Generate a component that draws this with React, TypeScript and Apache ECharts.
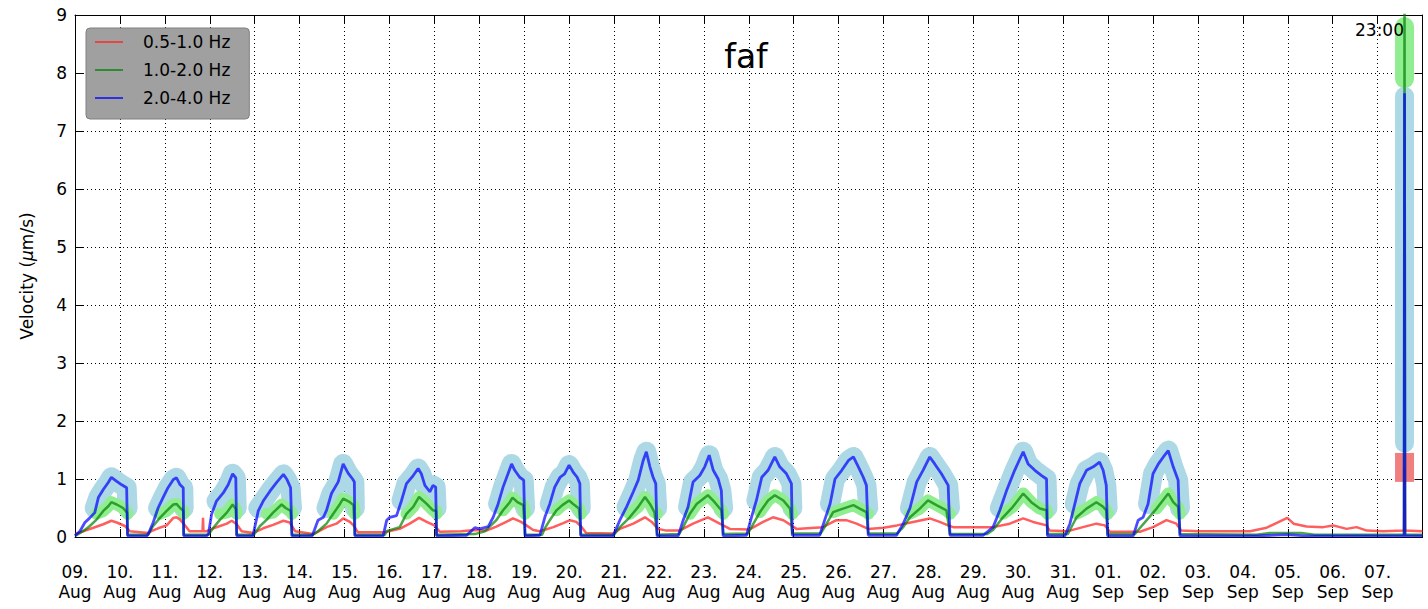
import React, { useEffect, useRef } from 'react';
import * as echarts from 'echarts';

// ---------- data ----------
const tickDays = ['09.', '10.', '11.', '12.', '13.', '14.', '15.', '16.', '17.', '18.', '19.', '20.', '21.', '22.', '23.', '24.', '25.', '26.', '27.', '28.', '29.', '30.', '31.', '01.', '02.', '03.', '04.', '05.', '06.', '07.'];
const tickMonths = ['Aug', 'Aug', 'Aug', 'Aug', 'Aug', 'Aug', 'Aug', 'Aug', 'Aug', 'Aug', 'Aug', 'Aug', 'Aug', 'Aug', 'Aug', 'Aug', 'Aug', 'Aug', 'Aug', 'Aug', 'Aug', 'Aug', 'Aug', 'Sep', 'Sep', 'Sep', 'Sep', 'Sep', 'Sep', 'Sep'];
const seriesNames = ['0.5-1.0 Hz', '1.0-2.0 Hz', '2.0-4.0 Hz'];
const titleText = 'faf';
const clockLabel = '23:00';
const yAxisName = 'Velocity ({it|μ}m/s)';

// [day since 09 Aug 00:00, velocity µm/s]
const red05: number[][] = [
  [0, 0.05], [0.18, 0.1], [0.41, 0.16], [0.63, 0.22], [0.81, 0.28], [0.93, 0.25], [1.11, 0.19], [1.22, 0.1],
  [1.63, 0.07], [1.7, 0.1], [1.85, 0.15], [2.04, 0.2], [2.19, 0.33], [2.26, 0.34], [2.34, 0.3], [2.46, 0.19], [2.55, 0.1],
  [2.84, 0.1], [2.85, 0.33], [2.86, 0.1],
  [2.93, 0.1], [3.08, 0.15], [3.23, 0.19], [3.38, 0.23], [3.49, 0.28], [3.6, 0.22], [3.71, 0.1],
  [3.97, 0.07], [4.19, 0.15], [4.41, 0.21], [4.64, 0.28], [4.78, 0.25], [4.9, 0.1],
  [5.3, 0.05], [5.4, 0.09], [5.6, 0.17], [5.82, 0.23], [5.97, 0.32], [6.12, 0.26], [6.2, 0.2], [6.3, 0.08],
  [6.86, 0.08], [6.94, 0.09], [7.23, 0.14], [7.45, 0.23], [7.66, 0.33], [7.83, 0.26], [8.0, 0.2], [8.12, 0.09],
  [8.6, 0.1], [8.9, 0.12], [9.16, 0.11], [9.38, 0.18], [9.6, 0.26], [9.75, 0.32], [9.93, 0.26], [10.05, 0.2], [10.2, 0.12],
  [10.35, 0.1], [10.65, 0.17], [10.87, 0.24], [11.02, 0.29], [11.16, 0.26], [11.27, 0.18], [11.38, 0.07],
  [11.98, 0.06], [12.13, 0.14], [12.43, 0.23], [12.69, 0.34], [12.84, 0.26], [12.98, 0.14], [13.17, 0.11],
  [13.46, 0.11], [13.76, 0.23], [14.09, 0.34], [14.28, 0.26], [14.43, 0.2], [14.58, 0.14],
  [15.02, 0.13], [15.32, 0.26], [15.54, 0.34], [15.77, 0.29], [15.95, 0.2], [16.06, 0.14],
  [16.65, 0.17], [16.95, 0.29], [17.17, 0.29], [17.4, 0.23], [17.66, 0.14],
  [18.0, 0.16], [18.3, 0.2], [18.66, 0.26], [19.03, 0.32], [19.25, 0.26], [19.44, 0.2], [19.55, 0.17],
  [20.44, 0.17], [20.81, 0.23], [21.11, 0.32], [21.33, 0.26], [21.63, 0.2], [21.7, 0.11],
  [22.1, 0.1], [22.15, 0.11], [22.44, 0.17], [22.74, 0.23], [22.93, 0.2], [23.04, 0.09],
  [23.6, 0.09], [23.71, 0.09], [24.0, 0.17], [24.3, 0.29], [24.52, 0.23], [24.63, 0.11],
  [25.0, 0.1], [26.16, 0.1], [26.53, 0.16], [26.99, 0.33], [27.13, 0.23], [27.42, 0.18], [27.79, 0.17], [28.01, 0.2],
  [28.31, 0.14], [28.53, 0.17], [28.76, 0.11], [29.12, 0.1], [29.59, 0.11], [29.6, 1.2], [29.61, 0.11], [30, 0.1],
];

const green12: number[][] = [
  [0, 0.02], [0.18, 0.1], [0.33, 0.19], [0.48, 0.3], [0.63, 0.45], [0.74, 0.53], [0.81, 0.6], [0.93, 0.56], [1.07, 0.5], [1.16, 0.42], [1.17, 0.04],
  [1.63, 0.04], [1.74, 0.19], [1.89, 0.33], [2.04, 0.45], [2.19, 0.56], [2.26, 0.57], [2.34, 0.5], [2.41, 0.45], [2.42, 0.04],
  [2.97, 0.04], [3.08, 0.16], [3.23, 0.3], [3.38, 0.42], [3.51, 0.56], [3.58, 0.48], [3.6, 0.04],
  [3.98, 0.04], [4.12, 0.19], [4.27, 0.3], [4.41, 0.42], [4.6, 0.56], [4.69, 0.5], [4.8, 0.45], [4.83, 0.04],
  [5.3, 0.04], [5.41, 0.1], [5.6, 0.23], [5.75, 0.4], [5.9, 0.57], [5.97, 0.66], [6.12, 0.6], [6.2, 0.55], [6.23, 0.04],
  [6.9, 0.04], [6.94, 0.1], [7.1, 0.14], [7.23, 0.17], [7.38, 0.4], [7.53, 0.52], [7.66, 0.69], [7.83, 0.57], [7.97, 0.46], [8.04, 0.45], [8.05, 0.04],
  [8.9, 0.05], [9.13, 0.1], [9.38, 0.29], [9.53, 0.46], [9.68, 0.6], [9.74, 0.68], [9.85, 0.6], [9.98, 0.55], [10.02, 0.04],
  [10.4, 0.04], [10.46, 0.15], [10.57, 0.29], [10.72, 0.46], [10.85, 0.55], [11.0, 0.63], [11.12, 0.55], [11.22, 0.49], [11.26, 0.04],
  [12.0, 0.04], [12.13, 0.17], [12.35, 0.34], [12.54, 0.52], [12.69, 0.69], [12.8, 0.57], [12.9, 0.43], [12.96, 0.04],
  [13.45, 0.05], [13.54, 0.17], [13.69, 0.4], [13.84, 0.57], [13.99, 0.66], [14.09, 0.72], [14.24, 0.6], [14.39, 0.46], [14.43, 0.05],
  [14.98, 0.06], [15.06, 0.17], [15.25, 0.43], [15.43, 0.63], [15.58, 0.72], [15.77, 0.63], [15.92, 0.49], [15.97, 0.06],
  [16.6, 0.06], [16.69, 0.17], [16.88, 0.43], [17.1, 0.49], [17.33, 0.55], [17.47, 0.49], [17.62, 0.43], [17.66, 0.06],
  [18.3, 0.06], [18.44, 0.17], [18.59, 0.34], [18.81, 0.49], [18.99, 0.63], [19.18, 0.55], [19.4, 0.46], [19.48, 0.05],
  [20.3, 0.05], [20.44, 0.12], [20.66, 0.34], [20.88, 0.52], [21.11, 0.75], [21.29, 0.6], [21.48, 0.49], [21.63, 0.46], [21.65, 0.05],
  [22.1, 0.05], [22.15, 0.12], [22.3, 0.34], [22.52, 0.49], [22.74, 0.6], [22.89, 0.52], [22.96, 0.46], [22.99, 0.05],
  [23.6, 0.05], [23.67, 0.12], [23.86, 0.29], [24.08, 0.49], [24.34, 0.75], [24.45, 0.6], [24.56, 0.52], [24.6, 0.05],
  [26.3, 0.04], [26.6, 0.07], [27.3, 0.07], [27.6, 0.04], [29.59, 0.04], [29.6, 9.6], [29.61, 0.04], [30, 0.04],
];

const blue24: number[][] = [
  [0, 0.02], [0.11, 0.1], [0.22, 0.25], [0.33, 0.33], [0.44, 0.42], [0.52, 0.68], [0.63, 0.82], [0.74, 0.94], [0.81, 1.03], [0.93, 0.96], [1.04, 0.9], [1.15, 0.85], [1.17, 0.02],
  [1.6, 0.02], [1.63, 0.05], [1.74, 0.25], [1.85, 0.5], [1.96, 0.68], [2.07, 0.85], [2.19, 0.99], [2.26, 1.02], [2.34, 0.9], [2.41, 0.85], [2.42, 0.02],
  [2.93, 0.02], [2.97, 0.05], [3.04, 0.39], [3.15, 0.62], [3.3, 0.76], [3.41, 0.9], [3.51, 1.09], [3.58, 1.02], [3.6, 0.02],
  [3.96, 0.02], [4.0, 0.16], [4.08, 0.45], [4.19, 0.62], [4.34, 0.79], [4.49, 0.94], [4.64, 1.08], [4.72, 0.99], [4.8, 0.85], [4.83, 0.02],
  [5.28, 0.02], [5.33, 0.12], [5.41, 0.29], [5.53, 0.34], [5.6, 0.46], [5.71, 0.75], [5.86, 0.95], [5.97, 1.26], [6.08, 1.1], [6.18, 1.0], [6.22, 0.95], [6.23, 0.02],
  [6.86, 0.02], [6.94, 0.29], [7.01, 0.34], [7.16, 0.37], [7.27, 0.63], [7.38, 0.92], [7.53, 1.06], [7.64, 1.18], [7.71, 1.09], [7.79, 0.89], [7.9, 0.78], [7.97, 0.89], [8.03, 0.86], [8.05, 0.02],
  [8.72, 0.03], [8.9, 0.16], [9.01, 0.14], [9.2, 0.18], [9.31, 0.34], [9.42, 0.57], [9.53, 0.86], [9.64, 1.09], [9.72, 1.26], [9.79, 1.15], [9.9, 1.03], [9.99, 0.98], [10.02, 0.02],
  [10.35, 0.03], [10.46, 0.34], [10.57, 0.57], [10.68, 0.86], [10.8, 1.03], [10.9, 1.09], [11.0, 1.24], [11.09, 1.12], [11.18, 1.03], [11.24, 0.92], [11.26, 0.02],
  [11.98, 0.02], [12.13, 0.29], [12.28, 0.52], [12.43, 0.78], [12.54, 0.98], [12.65, 1.32], [12.72, 1.47], [12.8, 1.21], [12.87, 1.03], [12.93, 0.92], [12.96, 0.02],
  [13.43, 0.02], [13.54, 0.29], [13.65, 0.52], [13.76, 0.95], [13.91, 1.06], [14.02, 1.21], [14.12, 1.41], [14.21, 1.15], [14.32, 1.0], [14.39, 0.8], [14.43, 0.02],
  [14.95, 0.03], [15.06, 0.34], [15.17, 0.63], [15.29, 1.03], [15.43, 1.15], [15.58, 1.38], [15.69, 1.21], [15.84, 1.09], [15.95, 0.92], [15.97, 0.03],
  [16.58, 0.03], [16.69, 0.29], [16.81, 0.57], [16.92, 1.0], [17.07, 1.15], [17.22, 1.32], [17.33, 1.38], [17.44, 1.21], [17.55, 1.03], [17.62, 0.89], [17.66, 0.03],
  [18.29, 0.03], [18.44, 0.23], [18.59, 0.5], [18.74, 0.95], [18.88, 1.15], [19.03, 1.38], [19.14, 1.26], [19.29, 1.09], [19.44, 0.89], [19.48, 0.03],
  [20.22, 0.03], [20.44, 0.17], [20.59, 0.46], [20.74, 0.8], [20.92, 1.15], [21.11, 1.47], [21.22, 1.26], [21.37, 1.15], [21.52, 1.06], [21.63, 1.0], [21.65, 0.02],
  [22.04, 0.02], [22.15, 0.23], [22.26, 0.57], [22.37, 0.92], [22.52, 1.15], [22.67, 1.21], [22.81, 1.29], [22.89, 1.15], [22.96, 0.89], [22.99, 0.02],
  [23.56, 0.02], [23.67, 0.29], [23.78, 0.34], [23.89, 0.57], [24.0, 1.09], [24.12, 1.26], [24.23, 1.38], [24.34, 1.49], [24.45, 1.21], [24.56, 0.98], [24.6, 0.02],
  [26.3, 0.02], [26.99, 0.04], [27.4, 0.02], [29.59, 0.02], [29.6, 7.65], [29.61, 0.02], [30, 0.02],
];

// last-sample envelope bars [from, to]
const spikeDay = 29.6;
const spikeRedBand = [0.95, 1.45];
const spikeBlueBand = [1.62, 7.6];
const spikeGreenBand = [7.9, 8.8];

// ---------- helpers ----------
function bandSegments(points: number[][], on: number, floor: number, until: number) {
  const segs: number[][][] = [];
  let cur: number[][] | null = null;
  for (const [d, v] of points) {
    if (d >= until) break;
    if (v >= on) {
      if (!cur) cur = [];
      cur.push([d, Math.max(v, floor)]);
    } else if (cur) {
      cur.push([d, floor]);
      segs.push(cur);
      cur = null;
    }
  }
  if (cur) segs.push(cur);
  return segs;
}

const FONT = 'DejaVu Sans';

export default function App() {
  const ref = useRef<HTMLDivElement>(null);
  useEffect(() => {
    if (!ref.current) return;
    const chart = echarts.init(ref.current, null, { renderer: 'svg' });
    const base = {
      type: 'line',
      symbol: 'none',
      showSymbol: false,
      silent: true,
      animation: false,
      emphasis: { disabled: true },
      clip: true,
    };
    const blueBands = bandSegments(blue24, 0.4, 0.5, 29.5).map((seg) => ({
      ...base,
      data: seg,
      lineStyle: { color: '#add8e6', width: 20, cap: 'round', join: 'round' },
    }));
    const greenBands = bandSegments(green12, 0.3, 0.4, 29.5).map((seg) => ({
      ...base,
      data: seg,
      lineStyle: { color: '#90ee90', width: 12, cap: 'round', join: 'round' },
    }));
    const spikeSeries = [
      { ...base, data: [[spikeDay, spikeGreenBand[0]], [spikeDay, spikeGreenBand[1]]], lineStyle: { color: '#90ee90', width: 19, cap: 'round' } },
      { ...base, data: [[spikeDay, spikeBlueBand[0]], [spikeDay, spikeBlueBand[1]]], lineStyle: { color: '#add8e6', width: 19, cap: 'round' } },
      { ...base, data: [[spikeDay, spikeRedBand[0]], [spikeDay, spikeRedBand[1]]], lineStyle: { color: '#f08080', width: 19, cap: 'butt' } },
    ];
    const colors = ['rgba(255,40,40,0.75)', 'rgba(0,128,0,0.7)', 'rgba(0,0,255,0.7)'];
    const mainSeries = [red05, green12, blue24].map((data, i) => ({
      ...base,
      name: seriesNames[i],
      data,
      color: colors[i],
      itemStyle: { color: colors[i] },
      lineStyle: { color: colors[i], width: i === 2 ? 2.8 : 2.5 },
    }));

    const axisLine = { show: true, onZero: false, lineStyle: { color: '#000', width: 1 } };
    const tick = { show: true, inside: true, length: 8, lineStyle: { color: '#000', width: 1 } };
    const split = { show: true, lineStyle: { color: '#000', width: 1, type: [1, 3] } };

    chart.setOption({
      animation: false,
      backgroundColor: '#fff',
      textStyle: { fontFamily: FONT },
      title: {
        text: titleText,
        left: 741,
        top: 35,
        textAlign: 'center',
        textStyle: { fontSize: 33, fontWeight: 'normal', color: '#000', fontFamily: FONT },
      },
      legend: {
        data: seriesNames.map((n) => ({ name: n, icon: 'rect' })),
        orient: 'vertical',
        left: 86,
        top: 28,
        backgroundColor: '#a0a0a0',
        borderColor: '#808080',
        borderWidth: 1,
        borderRadius: 4,
        padding: [5, 19, 12, 9],
        itemGap: 10,
        itemWidth: 28,
        itemHeight: 2,
        selectedMode: false,
        textStyle: { fontSize: 17, color: '#000', fontFamily: FONT, lineHeight: 18, padding: [0, 0, 0, 15] },
      },
      grid: { left: 75, right: 5.5, top: 15, bottom: 72, containLabel: false, outerBoundsMode: 'none' },
      xAxis: [
        {
          type: 'value', min: 0, max: 30, interval: 1, position: 'bottom',
          axisLine, axisTick: tick, splitLine: split,
          axisLabel: {
            margin: 25, fontSize: 17, lineHeight: 20, color: '#000', fontFamily: FONT,
            formatter: (v: number) => {
              const i = Math.round(v);
              return i < tickDays.length ? tickDays[i] + '\n' + tickMonths[i] : '';
            },
          },
        },
        {
          type: 'value', min: 0, max: 30, interval: 1, position: 'top',
          axisLine, axisTick: tick, splitLine: { show: false }, axisLabel: { show: false },
        },
      ],
      yAxis: [
        {
          type: 'value', min: 0, max: 9, interval: 1, position: 'left',
          name: yAxisName, nameLocation: 'middle', nameGap: 40,
          nameTextStyle: { fontSize: 17, color: '#000', fontFamily: FONT, rich: { it: { fontStyle: 'italic', fontSize: 17, color: '#000', fontFamily: FONT } } },
          axisLine, axisTick: tick, splitLine: split,
          axisLabel: { margin: 8, fontSize: 17, color: '#000', fontFamily: FONT },
        },
        {
          type: 'value', min: 0, max: 9, interval: 1, position: 'right',
          axisLine, axisTick: tick, splitLine: { show: false }, axisLabel: { show: false },
        },
      ],
      graphic: [
        { type: 'text', right: 24, top: 21, z: 100, style: { text: clockLabel, fontSize: 17, fill: '#000', fontFamily: FONT } },
      ],
      series: [...blueBands, ...greenBands, ...spikeSeries, ...mainSeries],
    });
    return () => chart.dispose();
  }, []);
  return <div ref={ref} style={{ position: 'fixed', left: 0, top: 0, width: 1428, height: 609, background: '#fff' }} />;
}
